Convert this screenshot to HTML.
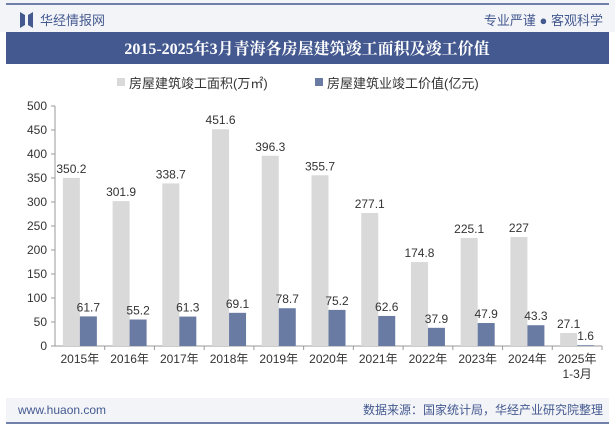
<!DOCTYPE html>
<html><head><meta charset="utf-8"><style>
body{margin:0;width:615px;height:427px;overflow:hidden;background:#fff;font-family:"Liberation Sans","Noto Sans CJK SC",sans-serif;}
</style></head><body>
<svg width="615" height="427" xmlns="http://www.w3.org/2000/svg" font-family="Liberation Sans, Noto Sans CJK SC, sans-serif">
<rect x="0" y="0" width="615" height="32" fill="#f2f4f8"/>
<line x1="6" y1="4" x2="609" y2="4" stroke="#44598f" stroke-width="1.5"/>
<path d="M20 12 L25 15 L25 25 L20 28 Z M28 15 L33 12 L33 28 L28 25 Z" fill="#44598f"/>
<text x="40" y="25" font-size="13" fill="#44598f">华经情报网</text>
<text x="603" y="25" font-size="13" fill="#44598f" text-anchor="end">专业严谨 ● 客观科学</text>
<rect x="6" y="32" width="603" height="32" fill="#44598f"/>
<text x="307" y="54" font-size="16" font-weight="bold" fill="#fff" text-anchor="middle" font-family="Liberation Serif, Noto Serif CJK SC, serif">2015-2025年3月青海各房屋建筑竣工面积及竣工价值</text>
<rect x="117" y="78" width="8" height="8" fill="#d9d9d9"/>
<text x="129" y="88" font-size="13" fill="#333">房屋建筑竣工面积(万㎡)</text>
<rect x="315" y="78" width="8" height="8" fill="#6a7ba3"/>
<text x="327" y="88" font-size="13" fill="#333">房屋建筑业竣工价值(亿元)</text>
<g id="chart"></g>
<rect x="6" y="398" width="603" height="25" fill="#f2f4f8"/>
<line x1="6" y1="423" x2="609" y2="423" stroke="#44598f" stroke-width="1.5"/>
<text x="18" y="414" font-size="12" fill="#44598f">www.huaon.com</text>
<text x="603" y="414" font-size="12" fill="#44598f" text-anchor="end">数据来源：国家统计局，华经产业研究院整理</text>
</svg>
<script>
const categories=["2015年","2016年","2017年","2018年","2019年","2020年","2021年","2022年","2023年","2024年","2025年|1-3月"];
const areaValues=[350.2,301.9,338.7,451.6,396.3,355.7,277.1,174.8,225.1,227,27.1];
const valueValues=[61.7,55.2,61.3,69.1,78.7,75.2,62.6,37.9,47.9,43.3,1.6];
const yTicks=[0,50,100,150,200,250,300,350,400,450,500];
const NS="http://www.w3.org/2000/svg";
const g=document.getElementById('chart');
const x0=55,x1=602,yb=346,yt=106,ymax=500;
const bw=(x1-x0)/categories.length;
const y=v=>yb-(v/ymax)*(yb-yt);
const cx=i=>x0+bw*(i+0.5);
function mk(tag,attrs,txt){const e=document.createElementNS(NS,tag);for(const k in attrs)e.setAttribute(k,attrs[k]);if(txt!==undefined)e.textContent=txt;g.appendChild(e);return e;}
const ax=mk('line',{x1:x0,y1:yt,x2:x0,y2:yb,stroke:'#999'});


const bx=mk('line',{x1:x0,y1:yb,x2:x1,y2:yb,stroke:'#999'});


yTicks.forEach(t=>{
 mk('line',{x1:x0-4,y1:y(t),x2:x0,y2:y(t),stroke:'#999'});
 const e=mk('text',{x:x0-8,y:y(t)+4,'font-size':12,fill:'#333','text-anchor':'end'},t);
 
 
});
categories.forEach((c,i)=>{
 mk('line',{x1:x0+bw*(i+1),y1:yb,x2:x0+bw*(i+1),y2:yb+4,stroke:'#999'});
 const parts=c.split('|');
 parts.forEach((p,j)=>{
  const e=mk('text',{x:cx(i),y:yb+17+j*15,'font-size':12,fill:'#333','text-anchor':'middle'},p);
  
  
 });
 const a=mk('rect',{x:cx(i)-17,y:y(areaValues[i]),width:17,height:yb-y(areaValues[i]),fill:'#d9d9d9'});
 
 
 const v=mk('rect',{x:cx(i),y:y(valueValues[i]),width:17,height:yb-y(valueValues[i]),fill:'#6a7ba3'});
 
 
 const la=mk('text',{x:cx(i)-8.5,y:y(areaValues[i])-5,'font-size':12,fill:'#333','text-anchor':'middle'},areaValues[i]);
 
 
 const lv=mk('text',{x:cx(i)+8.5,y:y(valueValues[i])-5,'font-size':12,fill:'#333','text-anchor':'middle'},valueValues[i]);
 
 
});
</script>
</body></html>
